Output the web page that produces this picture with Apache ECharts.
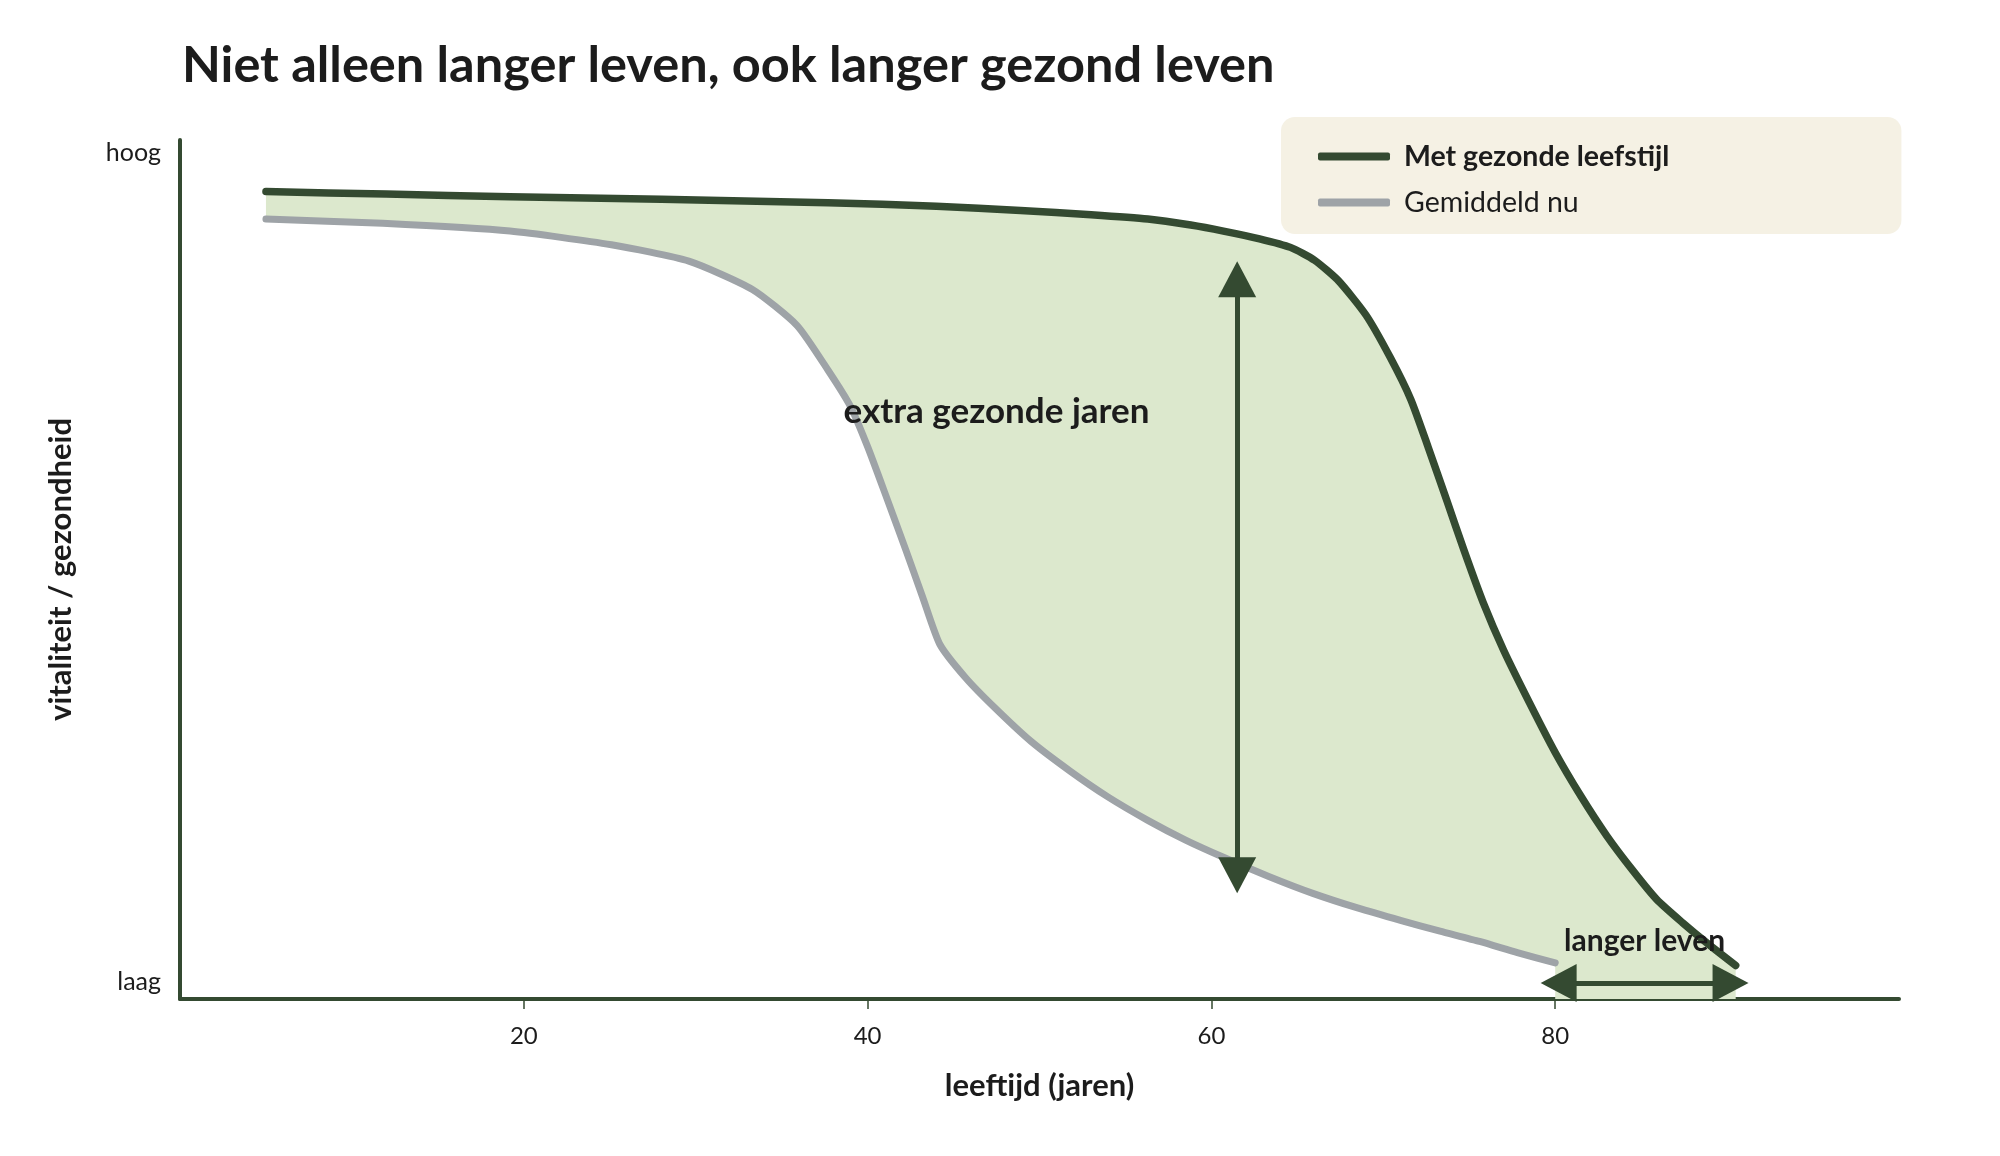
<!DOCTYPE html>
<html>
<head>
<meta charset="utf-8">
<script src="https://cdn.jsdelivr.net/npm/echarts@6/dist/echarts.min.js"></script>
<style>
  html, body { margin: 0; padding: 0; background: #fff; }
  #chart { width: 2000px; height: 1156px; }
</style>
</head>
<body>
<div id="chart"></div>
<script>
// leeftijd (x) en vitaliteit (y, 0 = laag, 100 = hoog)
const healthyAge = [5, 12, 19.2, 28, 37.7, 44, 48.9, 53, 56.3, 58.8, 60.7, 62.8, 64.6, 66, 67.4, 69, 70.4, 71.6, 72.6, 73.7, 74.7, 75.8, 77.0, 78.5, 80.0, 81.5, 83.0, 84.5, 85.9, 87.4, 88.9, 90.5]
const healthyVital = [94.0, 93.7, 93.4, 93.1, 92.7, 92.3, 91.8, 91.3, 90.8, 90.1, 89.4, 88.5, 87.5, 86.0, 83.6, 79.6, 74.7, 69.8, 64.3, 58.0, 52.2, 46.2, 40.6, 34.5, 28.7, 23.6, 19.0, 15.0, 11.6, 8.9, 6.4, 3.9]

const averageAge = [5, 11.8, 19.2, 25.1, 29.6, 33.3, 35.9, 37.7, 39.0, 40.0, 41.1, 42.2, 43.2, 44.2, 45.7, 47.4, 49.5, 51.8, 54.0, 56.3, 58.5, 60.7, 63.3, 65.9, 68.5, 71.1, 73.3, 75.6, 77.8, 80.0]
const averageVital = [90.8, 90.3, 89.4, 87.8, 85.9, 82.6, 78.4, 73.2, 69.0, 64.3, 58.4, 52.4, 46.8, 41.3, 37.4, 33.9, 30.0, 26.5, 23.5, 20.8, 18.5, 16.5, 14.3, 12.3, 10.6, 9.1, 7.9, 6.7, 5.4, 4.2]

const xTicks = [20, 40, 60, 80]
const yTicks = [2, 98.5]
const yTickLabels = ['laag', 'hoog']

const DARK = '#344a31'
const GREY = '#9ea3a7'
const FILL = '#dce8cd'
const TEXT = '#1c1c1c'
const FONT = 'Lato'

const chart = echarts.init(document.getElementById('chart'))

const toPairs = (xs, ys) => xs.map((x, i) => [x, ys[i]])

const option = {
  backgroundColor: '#fff',
  animation: false,
  title: {
    text: 'Niet alleen langer leven, ook langer gezond leven',
    left: 177,
    top: 35,
    textStyle: { fontFamily: FONT, fontSize: 50.5, fontWeight: 'bold', color: TEXT }
  },
  legend: {
    data: ['Met gezonde leefstijl', 'Gemiddeld nu'],
    orient: 'vertical',
    left: 1281,
    top: 117,
    padding: [25, 232, 17, 37],
    backgroundColor: '#f5f1e4',
    borderRadius: 14,
    icon: 'roundRect',
    itemWidth: 72,
    itemHeight: 8,
    itemGap: 17,
    selectedMode: false,
    textStyle: {
      fontFamily: FONT,
      fontSize: 28.5,
      color: TEXT,
      padding: [0, 0, 0, 9],
      rich: {
        b: { fontFamily: FONT, fontSize: 28.5, fontWeight: 'bold', color: TEXT },
        n: { fontFamily: FONT, fontSize: 28.5, color: TEXT }
      }
    },
    formatter: (name) => name === 'Met gezonde leefstijl' ? '{b|' + name + '}' : '{n|' + name + '}'
  },
  grid: { left: 180, right: 101, top: 140, bottom: 157 },
  xAxis: {
    type: 'value',
    min: 0,
    max: 100,
    interval: 20,
    name: 'leeftijd (jaren)',
    nameLocation: 'middle',
    nameGap: 71,
    nameTextStyle: { fontFamily: FONT, fontSize: 31, fontWeight: 'bold', color: TEXT },
    axisLine: { lineStyle: { color: DARK, width: 4 } },
    axisTick: { customValues: xTicks, length: 10, lineStyle: { color: DARK, width: 1.5 } },
    axisLabel: { customValues: xTicks, margin: 25, fontFamily: FONT, fontSize: 24, color: TEXT },
    splitLine: { show: false }
  },
  yAxis: {
    type: 'value',
    min: 0,
    max: 100,
    name: 'vitaliteit / gezondheid',
    nameLocation: 'middle',
    nameGap: 104,
    nameTextStyle: { fontFamily: FONT, fontSize: 31, fontWeight: 'bold', color: TEXT },
    axisLine: { show: true, lineStyle: { color: DARK, width: 4 } },
    axisTick: { show: false },
    axisLabel: {
      customValues: yTicks,
      margin: 19,
      fontFamily: FONT,
      fontSize: 25,
      color: TEXT,
      formatter: (v) => yTickLabels[yTicks.indexOf(v)]
    },
    splitLine: { show: false }
  },
  series: [
    {
      // gebied tussen de twee lijnen
      type: 'custom',
      silent: true,
      z: 1,
      data: [[0, 0]],
      renderItem: (params, api) => {
        const pts = healthyAge.map((x, i) => api.coord([x, healthyVital[i]]))
        pts.push(api.coord([healthyAge[healthyAge.length - 1], 0]))
        pts.push(api.coord([averageAge[averageAge.length - 1], 0]))
        for (let i = averageAge.length - 1; i >= 0; i--) {
          pts.push(api.coord([averageAge[i], averageVital[i]]))
        }
        return { type: 'polygon', shape: { points: pts }, style: { fill: FILL } }
      }
    },
    {
      name: 'Gemiddeld nu',
      type: 'line',
      z: 3,
      color: GREY,
      showSymbol: false,
      smooth: 0.2,
      lineStyle: { width: 7, color: GREY, cap: 'round', join: 'round' },
      data: toPairs(averageAge, averageVital)
    },
    {
      name: 'Met gezonde leefstijl',
      type: 'line',
      z: 4,
      color: DARK,
      showSymbol: false,
      smooth: 0.2,
      lineStyle: { width: 7.5, color: DARK, cap: 'round', join: 'round' },
      data: toPairs(healthyAge, healthyVital),
      markLine: {
        silent: true,
        symbol: ['triangle', 'triangle'],
        symbolSize: [38, 36],
        label: { show: false },
        lineStyle: { color: DARK, width: 5, type: 'solid' },
        data: [
          [{ coord: [61.5, 14.4] }, { coord: [61.5, 83.8] }],
          [{ coord: [80.2, 1.85] }, { coord: [90.2, 1.85] }]
        ]
      },
      markPoint: {
        silent: true,
        symbol: 'circle',
        symbolSize: 0,
        label: {
          show: true,
          position: 'inside',
          fontFamily: FONT,
          fontWeight: 'bold',
          color: TEXT,
          formatter: (p) => p.name
        },
        data: [
          { name: 'extra gezonde jaren', coord: [47.5, 68.4], label: { fontSize: 35 } },
          { name: 'langer leven', coord: [85.2, 6.7], label: { fontSize: 30 } }
        ]
      }
    }
  ]
}

chart.setOption(option)
window.addEventListener('resize', () => chart.resize())
</script>
</body>
</html>
